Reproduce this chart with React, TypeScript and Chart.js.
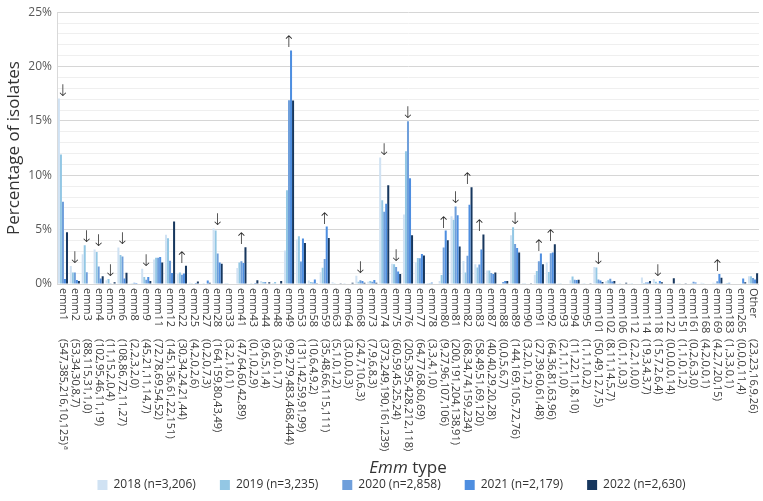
import { useEffect, useRef } from 'react';
import { Chart, registerables } from 'chart.js';

Chart.register(...registerables);

const CATEGORIES = [
  'emm1', 'emm2', 'emm3', 'emm4', 'emm5', 'emm6', 'emm8', 'emm9', 'emm11', 'emm12',
  'emm22', 'emm25', 'emm27', 'emm28', 'emm33', 'emm41', 'emm43', 'emm44', 'emm48', 'emm49',
  'emm53', 'emm58', 'emm59', 'emm63', 'emm64', 'emm68', 'emm73', 'emm74', 'emm75', 'emm76',
  'emm77', 'emm78', 'emm80', 'emm81', 'emm82', 'emm83', 'emm87', 'emm88', 'emm89', 'emm90',
  'emm91', 'emm92', 'emm93', 'emm94', 'emm95', 'emm101', 'emm102', 'emm106', 'emm112', 'emm114',
  'emm118', 'emm122', 'emm151', 'emm161', 'emm168', 'emm169', 'emm183', 'emm265', 'Other',
];

const COUNTS_2018 = [
  547, 53, 88, 102, 11, 108, 2, 45, 72, 145,
  30, 4, 0, 164, 3, 47, 0, 9, 3, 99,
  131, 10, 35, 5, 3, 24, 7, 373, 60, 205,
  64, 3, 9, 200, 68, 58, 40, 0, 144, 3,
  27, 64, 2, 11, 1, 50, 8, 0, 2, 19,
  15, 0, 1, 0, 4, 4, 1, 0, 23,
];
const COUNTS_2019 = [
  385, 34, 115, 95, 15, 86, 2, 21, 78, 136,
  34, 2, 2, 159, 2, 64, 1, 6, 6, 279,
  142, 6, 48, 1, 0, 7, 9, 249, 59, 395,
  77, 3, 27, 191, 34, 49, 40, 0, 169, 2,
  39, 36, 1, 22, 1, 49, 11, 1, 2, 3,
  7, 0, 1, 2, 2, 2, 3, 0, 23,
];
const COUNTS_2020 = [
  216, 30, 31, 46, 2, 72, 3, 11, 69, 61,
  24, 0, 0, 80, 1, 60, 0, 5, 0, 483,
  59, 4, 66, 0, 0, 10, 6, 190, 45, 428,
  68, 4, 96, 204, 74, 51, 29, 5, 105, 0,
  60, 81, 1, 11, 1, 12, 14, 1, 1, 4,
  2, 0, 0, 6, 0, 7, 3, 0, 16,
];
const COUNTS_2021 = [
  10, 8, 1, 11, 0, 11, 2, 14, 54, 22,
  21, 2, 7, 43, 0, 42, 2, 1, 1, 468,
  91, 9, 115, 1, 0, 6, 8, 161, 25, 212,
  60, 1, 107, 138, 159, 69, 20, 6, 72, 1,
  61, 63, 1, 8, 0, 7, 5, 0, 0, 3,
  6, 0, 1, 3, 0, 20, 0, 11, 9,
];
const COUNTS_2022 = [
  125, 7, 0, 19, 4, 27, 0, 7, 52, 151,
  44, 6, 3, 49, 1, 89, 9, 4, 7, 444,
  99, 2, 111, 2, 3, 3, 3, 239, 24, 118,
  69, 0, 106, 91, 234, 120, 28, 7, 76, 2,
  48, 96, 0, 10, 2, 5, 7, 3, 0, 7,
  4, 14, 2, 0, 1, 15, 1, 4, 26,
];

const YEARS = ['2018', '2019', '2020', '2021', '2022'];
const TOTALS = [3206, 3235, 2858, 2179, 2630];
const TOTAL_LABELS = ['3,206', '3,235', '2,858', '2,179', '2,630'];
const COLORS = ['#d0e2f3', '#93c7e4', '#6f9fdb', '#4e8ee0', '#17375e'];

const ARROWS_DOWN = [
  'emm1', 'emm2', 'emm3', 'emm4', 'emm5', 'emm6', 'emm9', 'emm28', 'emm68',
  'emm74', 'emm75', 'emm76', 'emm81', 'emm89', 'emm101', 'emm118',
];
const ARROWS_UP = [
  'emm22', 'emm41', 'emm49', 'emm59', 'emm80', 'emm82', 'emm83', 'emm91', 'emm92', 'emm169',
];
const FOOTNOTE_CATEGORY = 'emm1';
const FOOTNOTE_MARK = 'a';

const Y_TICKS_MAJOR = 5;
const FONT = '"Open Sans", "DejaVu Sans", sans-serif';

const COUNT_SERIES = [COUNTS_2018, COUNTS_2019, COUNTS_2020, COUNTS_2021, COUNTS_2022];

const overlayPlugin = {
  id: 'overlay',
  afterLayout(chart: any) {
    const lg = chart.legend;
    if (lg) {
      lg.left += 12;
      lg.right += 12;
    }
  },
  afterDatasetsDraw(chart: any) {
    const { ctx, scales } = chart;
    const xs = scales.x;
    const ys = scales.y;
    ctx.save();
    ctx.fillStyle = '#2b2b2b';
    ctx.font = `200 16px "DejaVu Sans", sans-serif`;
    ctx.textAlign = 'center';
    ctx.textBaseline = 'alphabetic';
    const drawArrow = (cat: string, glyph: string) => {
      const i = CATEGORIES.indexOf(cat);
      if (i < 0) return;
      let maxV = 0;
      chart.data.datasets.forEach((ds: any) => {
        if (ds.data[i] > maxV) maxV = ds.data[i];
      });
      const px = xs.getPixelForValue(i);
      const py = ys.getPixelForValue(maxV);
      ctx.fillText(glyph, px, py - 3);
    };
    ARROWS_DOWN.forEach((c) => drawArrow(c, '↓'));
    ARROWS_UP.forEach((c) => drawArrow(c, '↑'));
    ctx.restore();
  },
  afterDraw(chart: any) {
    const { ctx, scales, chartArea } = chart;
    const xs = scales.x;
    ctx.save();
    ctx.fillStyle = '#3a3a3a';
    ctx.textAlign = 'left';
    ctx.textBaseline = 'middle';
    CATEGORIES.forEach((cat, i) => {
      const px = xs.getPixelForValue(i);
      const countText = '(' + COUNT_SERIES.map((s) => s[i]).join(',') + ')';
      ctx.save();
      ctx.translate(px, chartArea.bottom + 4);
      ctx.rotate(Math.PI / 2);
      ctx.font = `11px ${FONT}`;
      ctx.fillText(cat, 0, 0);
      ctx.fillText(countText, 51, 0);
      if (cat === FOOTNOTE_CATEGORY) {
        const w = ctx.measureText(countText).width;
        ctx.font = `7px ${FONT}`;
        ctx.fillText(FOOTNOTE_MARK, 51 + w + 1, -3);
      }
      ctx.restore();
    });
    // x-axis title: "Emm" italic + " type"
    const cx = (chartArea.left + chartArea.right) / 2;
    const ty = 468;
    ctx.fillStyle = '#333333';
    ctx.font = `italic 17px ${FONT}`;
    const w1 = ctx.measureText('Emm').width;
    ctx.font = `17px ${FONT}`;
    const w2 = ctx.measureText(' type').width;
    const start = cx - (w1 + w2) / 2;
    ctx.font = `italic 17px ${FONT}`;
    ctx.fillText('Emm', start, ty);
    ctx.font = `17px ${FONT}`;
    ctx.fillText(' type', start + w1, ty);
    ctx.restore();
  },
};

export default function App() {
  const canvasRef = useRef<HTMLCanvasElement | null>(null);

  useEffect(() => {
    if (!canvasRef.current) return;
    const datasets = YEARS.map((yr, k) => ({
      label: `${yr} (n=${TOTAL_LABELS[k]})`,
      data: COUNT_SERIES[k].map((c) => (c / TOTALS[k]) * 100),
      backgroundColor: COLORS[k],
      borderColor: COLORS[k],
      borderWidth: 0,
      barPercentage: 1,
      categoryPercentage: 0.85,
    }));
    const chart = new Chart(canvasRef.current, {
      type: 'bar',
      data: { labels: CATEGORIES, datasets },
      plugins: [overlayPlugin],
      options: {
        animation: false,
        responsive: true,
        maintainAspectRatio: false,
        layout: { padding: { top: 4, right: 4, left: 0, bottom: 0 } },
        plugins: {
          tooltip: { enabled: false },
          legend: {
            position: 'bottom',
            maxHeight: 47,
            labels: {
              boxWidth: 10,
              boxHeight: 10,
              padding: 24,
              color: '#333333',
              font: { size: 12, family: FONT },
            },
          },
        },
        scales: {
          x: {
            grid: { display: false },
            border: { display: false },
            ticks: { display: false },
            afterFit: (scale: any) => {
              scale.height = 171;
            },
          },
          y: {
            min: 0,
            max: 25,
            border: { display: true, color: '#d9d9d9' },
            grid: {
              drawTicks: false,
              color: (c: any) =>
                c.tick && c.tick.value % Y_TICKS_MAJOR === 0 ? '#d6d6d6' : '#efefef',
            },
            ticks: {
              stepSize: 1,
              autoSkip: false,
              padding: 5,
              color: '#595959',
              font: { size: 12, family: FONT },
              callback: (v: any) => (Number(v) % Y_TICKS_MAJOR === 0 ? `${v}%` : ''),
            },
            title: {
              display: true,
              text: 'Percentage of isolates',
              color: '#333333',
              font: { size: 17, family: FONT },
              padding: { top: 4, bottom: 4 },
            },
            afterFit: (scale: any) => {
              scale.width = 57;
            },
          },
        },
      },
    });
    return () => chart.destroy();
  }, []);

  return (
    <div style={{ position: 'fixed', left: 0, top: 0, width: 763, height: 501, background: '#fff' }}>
      <canvas ref={canvasRef} />
    </div>
  );
}
